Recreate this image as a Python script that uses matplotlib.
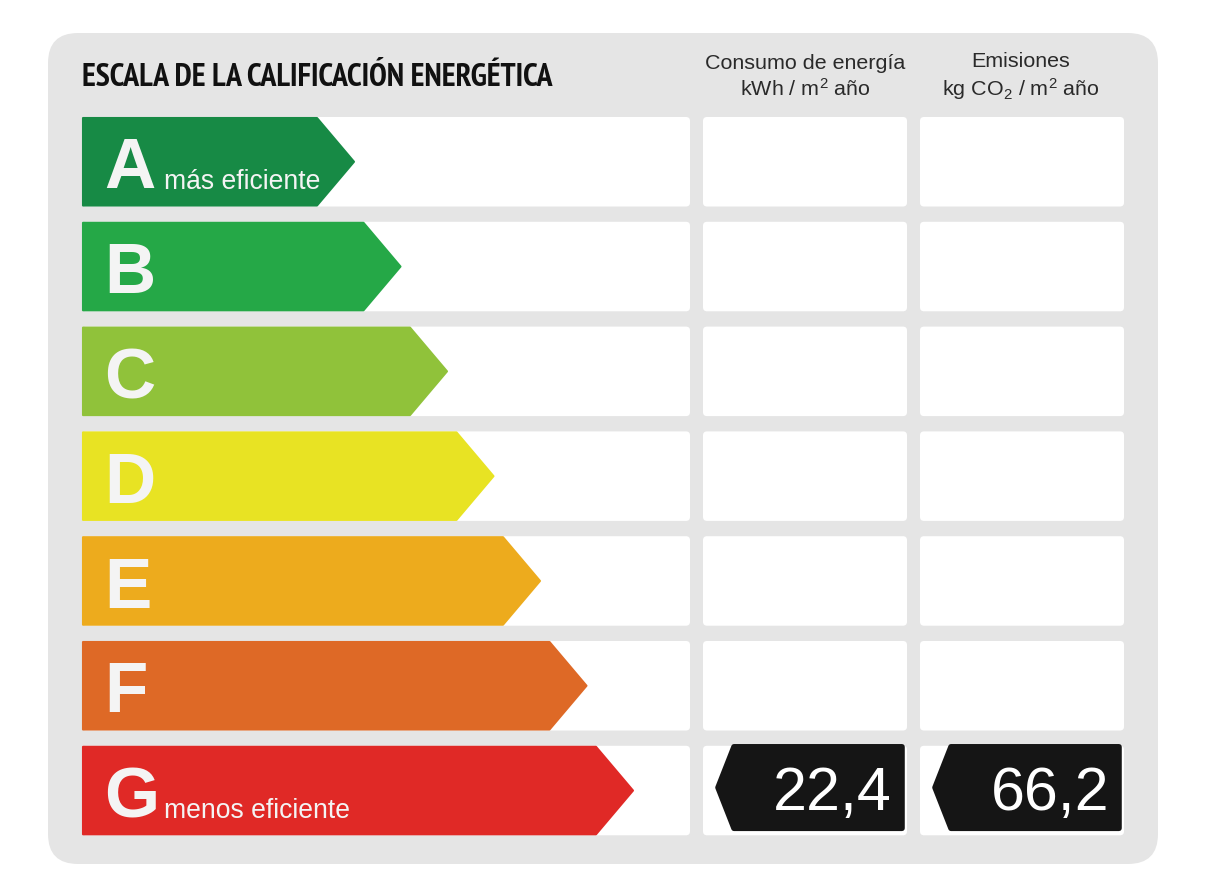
import matplotlib
matplotlib.use("Agg")
import matplotlib.pyplot as plt
from matplotlib.patches import FancyBboxPatch, Polygon
from matplotlib import font_manager as fm

# ---------------- data ----------------
ratings = ["A", "B", "C", "D", "E", "F", "G"]
rating_colors = ["#178a45", "#25a847", "#90c23a", "#e8e323", "#edab1d", "#de6926", "#e02926"]
rating_notes = {"A": "más eficiente", "G": "menos eficiente"}
title = "ESCALA DE LA CALIFICACIÓN ENERGÉTICA"
col_headers = [r"Consumo de energía" + "\n" + r"kWh / m$^2$ año",
               r"Emisiones" + "\n" + r"kg CO$_2$ / m$^2$ año"]
consumo_rating = "G"
consumo_value = 22.4
emisiones_rating = "G"
emisiones_value = 66.2

# ---------------- fonts ----------------
plt.rcParams['font.family'] = ['Liberation Sans', 'DejaVu Sans']
plt.rcParams['mathtext.fontset'] = 'custom'
plt.rcParams['mathtext.rm'] = 'Liberation Sans'
plt.rcParams['mathtext.it'] = 'Liberation Sans:italic'
plt.rcParams['mathtext.bf'] = 'Liberation Sans:bold'


def is_bold(w):
    if isinstance(w, str):
        return w.lower() in ("bold", "heavy", "extra bold", "black", "demibold", "semibold")
    return w >= 600


def find_condensed_bold():
    best = None
    best_score = -1
    for f in fm.fontManager.ttflist:
        nm = f.name.lower()
        fn = f.fname.lower()
        cond = ("narrow" in nm or "condensed" in nm or "narrow" in fn or "condensed" in fn
                or str(f.stretch) in ("condensed", "semi-condensed", "extra-condensed",
                                       "ultra-condensed") or
                (isinstance(f.stretch, int) and f.stretch < 500))
        if not cond or f.style != "normal":
            continue
        score = 1
        if is_bold(f.weight):
            score += 2
        if "narrow" in nm or "narrow" in fn:
            score += 1
        if score > best_score:
            best, best_score = f, score
    return best


cond_font = find_condensed_bold()
if cond_font is not None:
    title_fp = fm.FontProperties(fname=cond_font.fname)
    if not is_bold(cond_font.weight):
        title_fp.set_weight("bold")
else:
    title_fp = fm.FontProperties(family=['Liberation Sans', 'DejaVu Sans'], weight="bold")

# ---------------- figure ----------------
W, H = 1206, 892
fig = plt.figure(figsize=(W / 100, H / 100), dpi=100)
fig.patch.set_facecolor("white")
ax = fig.add_axes([0, 0, 1, 1])
ax.set_xlim(0, W)
ax.set_ylim(H, 0)
ax.axis("off")

PX = 0.72  # points per pixel at 100 dpi

# outer panel
ax.add_patch(FancyBboxPatch((48, 33), 1110, 831, boxstyle="round,pad=0,rounding_size=30",
                            fc="#e5e5e5", ec="none"))

# layout
row_top0 = 117
row_pitch = 104.8
row_h = 89.5
bar_left, bar_right = 82, 690
mid_left, mid_right = 703, 907
right_left, right_right = 920, 1124
tip0, tip_step, tip_depth = 355, 46.5, 38

for i, (r, c) in enumerate(zip(ratings, rating_colors)):
    top = row_top0 + i * row_pitch
    bot = top + row_h
    mid = (top + bot) / 2
    for (l, rr) in [(bar_left, bar_right), (mid_left, mid_right), (right_left, right_right)]:
        ax.add_patch(FancyBboxPatch((l, top), rr - l, row_h, boxstyle="round,pad=0,rounding_size=4",
                                    fc="white", ec="none"))
    tip = tip0 + i * tip_step
    pts = [(bar_left + 1, top + 1), (tip - tip_depth, top + 1), (tip - 1, mid),
           (tip - tip_depth, bot - 1), (bar_left + 1, bot - 1)]
    ax.add_patch(Polygon(pts, closed=True, fc=c, ec=c, lw=1.5, joinstyle="round"))
    ax.text(104, top + 71.5, r, fontsize=71 * PX, fontweight="bold", color="#f4f4f4",
            ha="left", va="baseline")
    if r in rating_notes:
        ax.text(164, top + 72, rating_notes[r], fontsize=26.5 * PX, color="#f4f4f4",
                ha="left", va="baseline")


def draw_tag(row, left, right, value):
    top = row_top0 + row * row_pitch - 1
    bot = top + row_h - 4
    mid = (top + bot) / 2
    pts = [(left + 18, top + 2), (right - 3, top + 2), (right - 3, bot - 2),
           (left + 18, bot - 2), (left + 2, mid)]
    ax.add_patch(Polygon(pts, closed=True, fc="#151515", ec="#151515", lw=4, joinstyle="round"))
    ax.text(right - 13, top + 65, f"{value:.1f}".replace(".", ","), fontsize=61 * PX,
            color="white", ha="right", va="baseline")


draw_tag(ratings.index(consumo_rating), 716, 905, consumo_value)
draw_tag(ratings.index(emisiones_rating), 933, 1122, emisiones_value)

# headers
for txt, cx in zip(col_headers, [805, 1021]):
    ax.text(cx, 77, txt, fontsize=21.5 * PX, color="#2a2a2a", ha="center", va="center",
            linespacing=1.25)

# title (fit to width)
t = ax.text(82, 86, title, fontsize=22, fontproperties=title_fp, color="#111111",
            ha="left", va="baseline")
t.set_fontsize(22)
fig.canvas.draw()
w = t.get_window_extent(renderer=fig.canvas.get_renderer()).width
target = 472
t.set_fontsize(min(23, 22 * target / w))

fig.savefig("out.png", dpi=100, facecolor="white")
